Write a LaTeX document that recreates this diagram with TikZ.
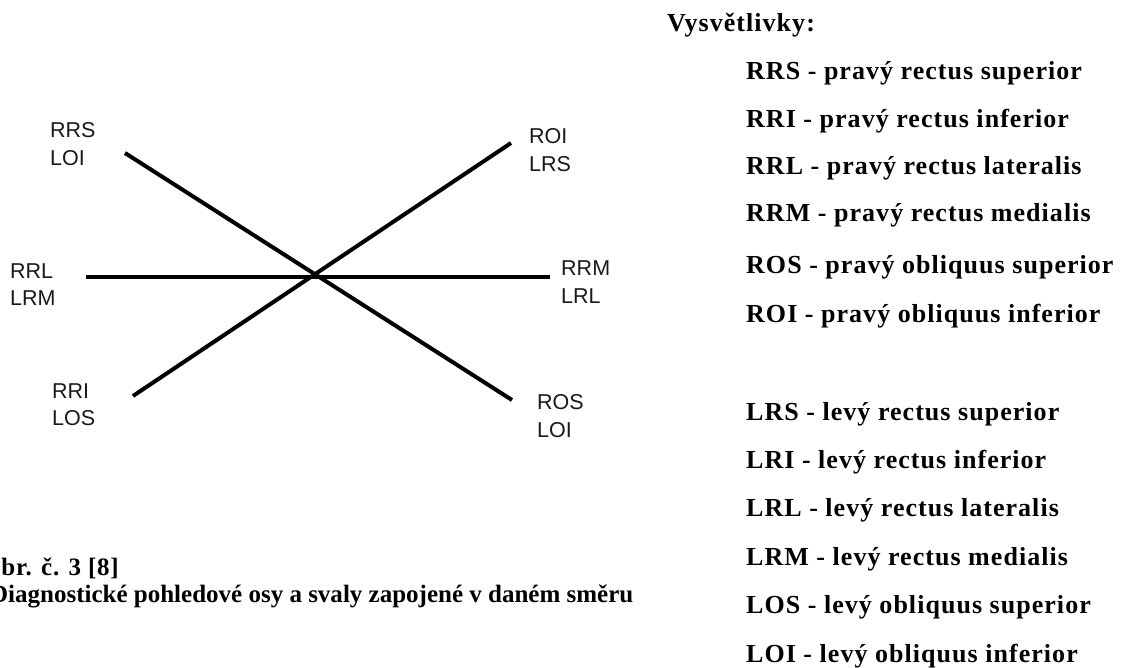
\documentclass[tikz,border=0pt]{standalone}
\usepackage{fontspec}
\setmainfont{Liberation Serif}
\newfontfamily\arialfont{Liberation Sans}
\newfontfamily\legfont[LetterSpace=4]{Liberation Serif Bold}
\newfontfamily\capfont[LetterSpace=3]{Liberation Serif Bold}
\tikzset{
  axis/.style={line width=4pt, black},
  lab/.style={font=\arialfont\fontsize{21.5}{26}\selectfont, anchor=base west, inner sep=0pt, text=black!90},
  leg/.style={font=\legfont\fontsize{26}{30}\selectfont, anchor=base west, inner sep=0pt},
  capt/.style={font=\bfseries\fontsize{25}{30}\selectfont, anchor=base west, inner sep=0pt},
  captA/.style={font=\capfont\fontsize{25}{30}\selectfont, anchor=base west, inner sep=0pt},
}
\begin{document}
\begin{tikzpicture}[x=1pt,y=-1pt]
\useasboundingbox (0,0) rectangle (1129,668);
\clip (0,0) rectangle (1129,668);
% axes endpoints
\coordinate (ul) at (125,153);
\coordinate (lr) at (512,400);
\coordinate (ll) at (133,396);
\coordinate (ur) at (511,143);
\coordinate (ml) at (86,277);
\coordinate (mr) at (550,277);
\draw[axis] (ul) -- (lr);
\draw[axis] (ll) -- (ur);
\draw[axis] (ml) -- (mr);
% labels
\node[lab] (l1a) at (50,138) {RRS};
\node[lab] (l1b) at (50,166) {LOI};
\node[lab] (l2a) at (10,278) {RRL};
\node[lab] (l2b) at (10,305) {LRM};
\node[lab] (l3a) at (52,398) {RRI};
\node[lab] (l3b) at (52,425) {LOS};
\node[lab] (r1a) at (529,144) {ROI};
\node[lab] (r1b) at (529,172) {LRS};
\node[lab] (r2a) at (561,276) {RRM};
\node[lab] (r2b) at (561,303) {LRL};
\node[lab] (r3a) at (537,409) {ROS};
\node[lab] (r3b) at (537,437) {LOI};
% caption
\node[captA] (c1) at (-19,575) {Obr. č. 3 [8]};
\node[capt] (c2) at (-10,602) {Diagnostické pohledové osy a svaly zapojené v daném směru};
% legend
\node[leg] (vh) at (667,32) {Vysvětlivky:};
\node[leg] (e1) at (746,80) {RRS - pravý rectus superior};
\node[leg] (e2) at (746,128) {RRI - pravý rectus inferior};
\node[leg] (e3) at (746,175) {RRL - pravý rectus lateralis};
\node[leg] (e4) at (746,222) {RRM - pravý rectus medialis};
\node[leg] (e5) at (746,273) {ROS - pravý obliquus superior};
\node[leg] (e6) at (746,322) {ROI - pravý obliquus inferior};
\node[leg] (f1) at (746,420) {LRS - levý rectus superior};
\node[leg] (f2) at (746,468) {LRI - levý rectus inferior};
\node[leg] (f3) at (746,516) {LRL - levý rectus lateralis};
\node[leg] (f4) at (746,565) {LRM - levý rectus medialis};
\node[leg] (f5) at (746,613) {LOS - levý obliquus superior};
\node[leg] (f6) at (746,662) {LOI - levý obliquus inferior};
\end{tikzpicture}
\end{document}
